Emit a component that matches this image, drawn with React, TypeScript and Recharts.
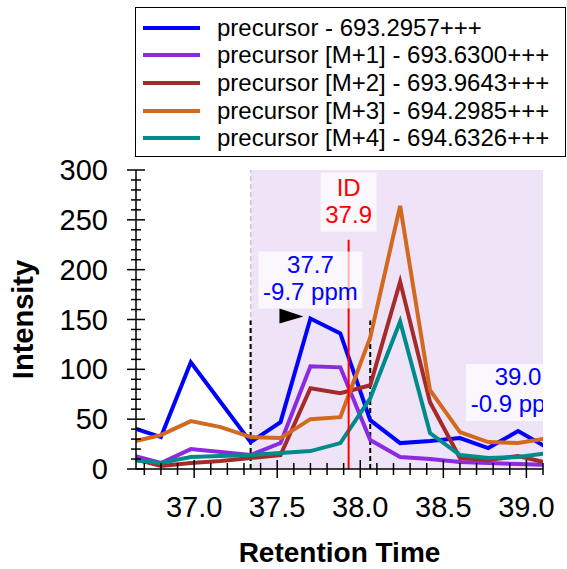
import { Legend, Line, LineChart, ReferenceArea, ReferenceDot, ReferenceLine, XAxis, YAxis } from "recharts"

const retentionTimes = [36.62, 36.8, 36.98, 37.16, 37.34, 37.52, 37.7, 37.88, 38.06, 38.24, 38.42, 38.6, 38.77, 38.95, 39.13]
const precursor = [42, 32, 107, 67, 27, 47, 151, 136, 49, 26, 28, 31, 21, 38, 21]
const precursorM1 = [14, 6, 20, 17, 14, 26, 103, 102, 29, 12, 10, 7, 6, 5, 4]
const precursorM2 = [11, 3, 6, 8, 11, 14, 81, 76, 84, 188, 67, 11, 9, 13, 6]
const precursorM3 = [27, 34, 48, 42, 32, 31, 50, 52, 132, 264, 79, 37, 27, 26, 31]
const precursorM4 = [9, 6, 12, 13, 14, 16, 18, 26, 71, 148, 36, 14, 11, 12, 16]

const seriesNames = [
  "precursor - 693.2957+++",
  "precursor [M+1] - 693.6300+++",
  "precursor [M+2] - 693.9643+++",
  "precursor [M+3] - 694.2985+++",
  "precursor [M+4] - 694.6326+++",
]
const seriesColors = ["#0000ff", "#8a2be2", "#a52a2a", "#d2691e", "#008b8b"]
const seriesKeys = ["m0", "m1", "m2", "m3", "m4"]

const xTicks = [
  36.7, 36.8, 36.9, 37.0, 37.1, 37.2, 37.3, 37.4, 37.5, 37.6, 37.7, 37.8, 37.9, 38.0, 38.1, 38.2, 38.3, 38.4, 38.5, 38.6,
  38.7, 38.8, 38.9, 39.0, 39.1,
]
const yTicks = [
  0, 10, 20, 30, 40, 50, 60, 70, 80, 90, 100, 110, 120, 130, 140, 150, 160, 170, 180, 190, 200, 210, 220, 230, 240, 250,
  260, 270, 280, 290, 300,
]

// integration window, peak boundaries and identification
const windowStart = 37.34
const windowEnd = 39.1
const peakStart = 37.34
const peakEnd = 38.06
const peakTop = 149
const idTime = 37.93
const idTop = 230
const sideMarkTime = 38.6
const sideMarkTop = 37
const idLines = ["ID", "37.9"]
const peakLabels = [
  { rt: 37.7, value: 151, lines: ["37.7", "-9.7 ppm"] },
  { rt: 38.95, value: 38, lines: ["39.0", "-0.9 ppm"] },
]

const data = retentionTimes.map((rt, i) => ({
  rt,
  m0: precursor[i],
  m1: precursorM1[i],
  m2: precursorM2[i],
  m3: precursorM3[i],
  m4: precursorM4[i],
}))

const font = "'Liberation Sans', Arial, Helvetica, sans-serif"

function XTick(props: any) {
  const { x, y, payload } = props
  const v = payload.value
  const major = Math.abs(v * 2 - Math.round(v * 2)) < 1e-6
  const len = major ? 9 : 6
  return (
    <g>
      <line x1={x} x2={x} y1={y - len} y2={y + len} stroke="#000" strokeWidth={1.5} />
      {major && (
        <text x={x} y={y + 48} textAnchor="middle" fontSize={29} fill="#000" fontFamily={font}>
          {v.toFixed(1)}
        </text>
      )}
    </g>
  )
}

function YTick(props: any) {
  const { x, y, payload } = props
  const v = payload.value
  const major = v % 50 === 0
  const len = major ? 9 : 5
  return (
    <g>
      <line x1={x - len} x2={x + len} y1={y} y2={y} stroke="#000" strokeWidth={1.5} />
      {major && (
        <text x={x - 28} y={y + 10} textAnchor="end" fontSize={29} fill="#000" fontFamily={font}>
          {v}
        </text>
      )}
    </g>
  )
}

function LabelBox(props: any) {
  const { cx, cy, clipPath, lines, color } = props
  return (
    <g clipPath={clipPath}>
      <rect x={cx - 52} y={cy - 67} width={104} height={57} fill="#ffffff" fillOpacity={0.7} />
      <text x={cx} y={cy - 46} textAnchor="middle" fontSize={24} fill={color} fontFamily={font}>
        {lines[0]}
      </text>
      <text x={cx} y={cy - 19} textAnchor="middle" fontSize={24} fill={color} fontFamily={font}>
        {lines[1]}
      </text>
    </g>
  )
}

function IdBox(props: any) {
  const { cx, cy } = props
  return (
    <g>
      <rect x={cx - 28} y={cy - 67} width={56} height={59} fill="#ffffff" fillOpacity={0.7} />
      <text x={cx} y={cy - 44} textAnchor="middle" fontSize={24} fill="#ff0000" fontFamily={font}>
        {idLines[0]}
      </text>
      <text x={cx} y={cy - 17} textAnchor="middle" fontSize={24} fill="#ff0000" fontFamily={font}>
        {idLines[1]}
      </text>
    </g>
  )
}

function Arrow(props: any) {
  const { cx, cy } = props
  return <polygon points={`${cx - 31},${cy - 10} ${cx - 31},${cy + 5} ${cx - 7},${cy - 2}`} fill="#000" />
}

function LegendBox() {
  return (
    <div
      style={{
        boxSizing: "border-box",
        width: 431,
        height: 150,
        border: "1.5px solid #000",
        background: "#fff",
        paddingTop: 6,
        fontFamily: font,
        fontSize: 24,
        color: "#000",
      }}
    >
      {seriesNames.map((name, i) => (
        <div key={name} style={{ display: "flex", alignItems: "center", height: 27.6 }}>
          <div style={{ marginLeft: 7, width: 57, height: 4, background: seriesColors[i] }} />
          <span style={{ marginLeft: 17, whiteSpace: "nowrap" }}>{name}</span>
        </div>
      ))}
    </div>
  )
}

export default function App() {
  return (
    <div style={{ position: "absolute", left: 0, top: 0, fontFamily: font }}>
      <LineChart width={567} height={569} data={data} margin={{ top: 170, right: 24, bottom: 0, left: 0 }}>
        <ReferenceArea
          x1={windowStart}
          x2={windowEnd}
          fill="#efe3f8"
          fillOpacity={1}
          stroke="none"
          ifOverflow="hidden"
        />
        <ReferenceLine x={windowStart} stroke="#c8c8c8" strokeWidth={1.5} strokeDasharray="5 3" />
        <ReferenceLine
          segment={[
            { x: sideMarkTime, y: 0 },
            { x: sideMarkTime, y: sideMarkTop },
          ]}
          stroke="#d4d4d4"
          strokeWidth={1.5}
          strokeDasharray="5 3"
        />
        <ReferenceLine
          segment={[
            { x: peakStart, y: 0 },
            { x: peakStart, y: peakTop },
          ]}
          stroke="#000"
          strokeWidth={2}
          strokeDasharray="5 3"
        />
        <ReferenceLine
          segment={[
            { x: peakEnd, y: 0 },
            { x: peakEnd, y: peakTop },
          ]}
          stroke="#000"
          strokeWidth={2}
          strokeDasharray="5 3"
        />
        <XAxis
          dataKey="rt"
          type="number"
          domain={[36.65, 39.1]}
          allowDataOverflow
          ticks={xTicks}
          interval={0}
          tickSize={0}
          tickMargin={0}
          tickLine={false}
          axisLine={{ stroke: "#000", strokeWidth: 1.5 }}
          tick={<XTick />}
          height={100}
          label={(p: any) => (
            <text
              x={p.viewBox.x + p.viewBox.width / 2}
              y={p.viewBox.y + 93}
              textAnchor="middle"
              fontSize={28}
              fontWeight="bold"
              fill="#000"
              fontFamily={font}
            >
              Retention Time
            </text>
          )}
        />
        <YAxis
          type="number"
          domain={[0, 300]}
          ticks={yTicks}
          interval={0}
          tickSize={0}
          tickMargin={0}
          tickLine={false}
          axisLine={{ stroke: "#000", strokeWidth: 1.5 }}
          tick={<YTick />}
          width={136}
          label={(p: any) => {
            const cx = p.viewBox.x + 33
            const cy = p.viewBox.y + p.viewBox.height / 2
            return (
              <text
                x={cx}
                y={cy}
                transform={`rotate(-90, ${cx}, ${cy})`}
                textAnchor="middle"
                fontSize={29}
                fontWeight="bold"
                fill="#000"
                fontFamily={font}
              >
                Intensity
              </text>
            )
          }}
        />
        {seriesKeys.map((key, i) => (
          <Line
            key={key}
            dataKey={key}
            name={seriesNames[i]}
            stroke={seriesColors[i]}
            strokeWidth={4}
            dot={false}
            activeDot={false}
            type="linear"
            isAnimationActive={false}
          />
        ))}
        {peakLabels.map((l) => (
          <ReferenceDot
            key={l.rt}
            x={l.rt}
            y={l.value}
            ifOverflow="hidden"
            shape={(p: any) => <LabelBox {...p} lines={l.lines} color="#0000ff" />}
          />
        ))}
        <ReferenceDot x={peakLabels[0].rt} y={peakLabels[0].value} shape={(p: any) => <Arrow {...p} />} />
        <ReferenceLine
          segment={[
            { x: idTime, y: 0 },
            { x: idTime, y: idTop },
          ]}
          stroke="#ff0000"
          strokeWidth={2}
        />
        <ReferenceDot x={idTime} y={idTop} shape={(p: any) => <IdBox {...p} />} />
        <Legend
          layout="horizontal"
          verticalAlign="middle"
          align="center"
          wrapperStyle={{ top: 7, left: 135, width: 431, height: 150 }}
          content={() => <LegendBox />}
        />
      </LineChart>
    </div>
  )
}
